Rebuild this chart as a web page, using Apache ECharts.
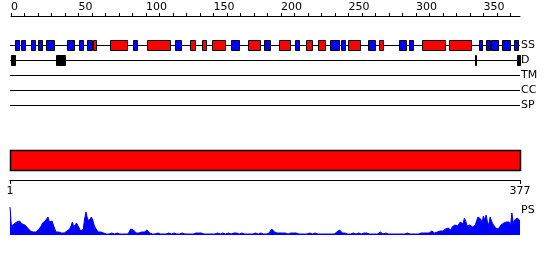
<!DOCTYPE html>
<html><head><meta charset="utf-8">
<script src="https://cdn.jsdelivr.net/npm/echarts@6/dist/echarts.min.js"></script>
<style>html,body{margin:0;padding:0;background:#fff}#c{width:550px;height:260px}</style>
</head><body><div id="c"></div>
<script>
const seqLength = 377;
const topTickLabels = [0, 50, 100, 150, 200, 250, 300, 350];
const topTicks = [0, 10, 20, 30, 40, 50, 60, 70, 80, 90, 100, 110, 120, 130, 140, 150, 160, 170, 180, 190, 200, 210, 220, 230, 240, 250, 260, 270, 280, 290, 300, 310, 320, 330, 340, 350, 360, 370];
const bottomTickLabels = [1, 377];
const trackNames = ['SS', 'D', 'TM', 'CC', 'SP'];
const ssHelix = [[61,63],[74,86],[101,118],[133,137],[142,145],[149,159],[176,185],[199,207],[219,223],[228,233],[250,259],[273,276],[305,322],[325,341]];
const ssStrand = [[3,6],[8,11],[15,18],[20,23],[26,32],[42,47],[51,54],[57,60],[91,94],[122,126],[163,169],[188,192],[211,214],[237,243],[245,248],[265,270],[288,293],[295,298],[347,349],[352,355],[356,361],[364,370],[373,376]];
const disorder = [[0,3],[34,40],[344,345],[375,377]];
const domainBar = [[1,377]];
const psValues = [
28,9,10,11,12,13,12,14,13,11,12,10,9,7,5,4,4,3,4,3,
4,5,7,9,12,10,14,16,18,13,12,14,10,6,3,2,3,2,2,3,
2,3,4,3,6,9,13,8,7,12,13,7,4,5,6,16,23,17,14,12,
18,15,10,7,5,3,4,3,5,2,2,1,2,1,1,2,1,1,1,2,
1,1,2,1,1,1,2,1,3,6,8,5,3,2,3,2,2,3,2,3,
3,5,3,2,2,1,2,1,1,2,1,1,2,1,2,1,1,2,1,1,
1,2,1,1,2,1,1,2,1,1,2,1,1,1,2,1,1,2,2,2,
3,2,1,1,2,1,1,1,2,1,1,1,1,2,1,1,1,2,1,1,
1,2,1,1,2,2,3,2,1,1,1,2,1,1,1,1,2,1,1,1,
1,2,1,1,1,2,1,1,1,1,1,2,4,6,4,3,2,2,3,2,
2,2,1,2,2,1,2,2,1,2,1,2,1,1,2,1,1,1,2,1,
1,2,1,1,1,2,1,1,2,1,1,1,2,1,1,1,2,1,1,1,
2,3,4,5,3,2,1,2,1,1,2,1,1,2,1,1,1,2,1,1,
2,2,3,2,1,1,2,1,1,1,2,1,2,3,2,1,1,2,1,1,
1,1,2,1,1,1,2,1,1,1,2,1,1,2,1,1,2,1,2,1,
2,1,2,2,1,2,3,2,3,2,3,4,3,2,4,3,3,4,5,4,
5,6,5,7,6,5,8,7,10,12,9,8,13,15,11,17,14,9,8,10,
9,8,9,10,12,18,20,16,12,19,15,20,13,10,18,14,11,10,7,9,
6,8,10,11,12,10,13,11,13,9,22,12,15,13,17,18,14
];

const FONT = 'DejaVu Sans';
const chart = echarts.init(document.getElementById('c'), null, {renderer: 'canvas'});

function crisp(v) { return Math.round(v - 0.5) + 0.5; }

function boxRender(color) {
  return function (params, api) {
    const s = api.coord([api.value(0), api.value(2)]);
    const e = api.coord([api.value(1), api.value(2)]);
    const h = Math.round(api.size([0, 1])[1] * 0.67);
    const x0 = crisp(s[0]), x1 = crisp(e[0]);
    const y0 = crisp(s[1] - h / 2);
    return {type: 'rect', shape: {x: x0, y: y0, width: Math.max(1, x1 - x0), height: h},
      style: {fill: color, stroke: '#000', lineWidth: 1}};
  };
}

const trackLines = trackNames.map(n => [0, seqLength, n]);

chart.setOption({
  animation: false,
  backgroundColor: '#fff',
  grid: [
    {left: 11, right: 30, top: 37.5, height: 75},
    {left: 10, right: 30, top: 150, height: 30},
    {left: 10, right: 30, top: 205, height: 30}
  ],
  xAxis: [
    {gridIndex: 0, type: 'value', position: 'top', offset: 21.5, min: 0, max: seqLength,
      axisLine: {show: true, lineStyle: {color: '#000', width: 1}},
      axisTick: {show: true, customValues: topTicks, length: 3, lineStyle: {color: '#000'}},
      axisLabel: {show: true, customValues: topTickLabels, align: 'left', margin: 3,
        fontSize: 11, fontFamily: FONT, color: '#000'},
      splitLine: {show: false}},
    {gridIndex: 1, type: 'value', position: 'bottom', min: 1, max: seqLength,
      axisLine: {show: true, lineStyle: {color: '#000', width: 1}},
      axisTick: {show: true, customValues: bottomTickLabels, length: 4, lineStyle: {color: '#000'}},
      axisLabel: {show: true, customValues: bottomTickLabels, margin: 6,
        fontSize: 11, fontFamily: FONT, color: '#000'},
      splitLine: {show: false}},
    {gridIndex: 2, type: 'value', min: 1, max: seqLength, show: false, splitLine: {show: false}}
  ],
  yAxis: [
    {gridIndex: 0, type: 'category', data: trackNames, inverse: true, position: 'right',
      axisLine: {show: false}, axisTick: {show: false}, splitLine: {show: false},
      axisLabel: {margin: 1, fontSize: 11, fontFamily: FONT, color: '#000'}},
    {gridIndex: 1, type: 'value', min: 0, max: 1, show: false, splitLine: {show: false}},
    {gridIndex: 2, type: 'value', min: 0, max: 30, show: false, splitLine: {show: false}}
  ],
  graphic: [
    {type: 'text', left: 521, top: 205, style: {text: 'PS', font: '11px "DejaVu Sans"', fill: '#000'}}
  ],
  series: [
    {type: 'custom', xAxisIndex: 0, yAxisIndex: 0, data: trackLines, encode: {x: [0, 1], y: 2}, z: 1,
      renderItem: function (params, api) {
        const s = api.coord([api.value(0), api.value(2)]);
        const e = api.coord([api.value(1), api.value(2)]);
        const y = crisp(s[1]);
        return {type: 'line', shape: {x1: Math.round(s[0]) - 1, y1: y, x2: Math.round(e[0]), y2: y},
          style: {stroke: '#000', lineWidth: 1}};
      }},
    {type: 'custom', xAxisIndex: 0, yAxisIndex: 0, z: 2,
      data: ssStrand.map(d => [d[0], d[1], 'SS']), encode: {x: [0, 1], y: 2},
      renderItem: boxRender('#0000ff')},
    {type: 'custom', xAxisIndex: 0, yAxisIndex: 0, z: 2,
      data: ssHelix.map(d => [d[0], d[1], 'SS']), encode: {x: [0, 1], y: 2},
      renderItem: boxRender('#ff0000')},
    {type: 'custom', xAxisIndex: 0, yAxisIndex: 0, z: 2,
      data: disorder.map(d => [d[0], d[1], 'D']), encode: {x: [0, 1], y: 2},
      renderItem: boxRender('#000000')},
    {type: 'custom', xAxisIndex: 1, yAxisIndex: 1, z: 2,
      data: domainBar, encode: {x: [0, 1]},
      renderItem: function (params, api) {
        const cs = params.coordSys;
        const s = api.coord([api.value(0), 1]);
        const e = api.coord([api.value(1), 1]);
        const x0 = crisp(s[0]), x1 = crisp(e[0]);
        return {type: 'rect', shape: {x: x0, y: crisp(cs.y), width: x1 - x0, height: Math.round(cs.height * 2 / 3)},
          style: {fill: '#ff0000', stroke: '#000', lineWidth: 1.5}};
      }},
    {type: 'line', xAxisIndex: 2, yAxisIndex: 2, z: 2,
      data: psValues.map((v, i) => [i + 1, v]),
      showSymbol: false, symbol: 'none',
      lineStyle: {color: '#0000ff', width: 1},
      areaStyle: {color: '#0000ff', opacity: 1}}
  ]
});
</script></body></html>
